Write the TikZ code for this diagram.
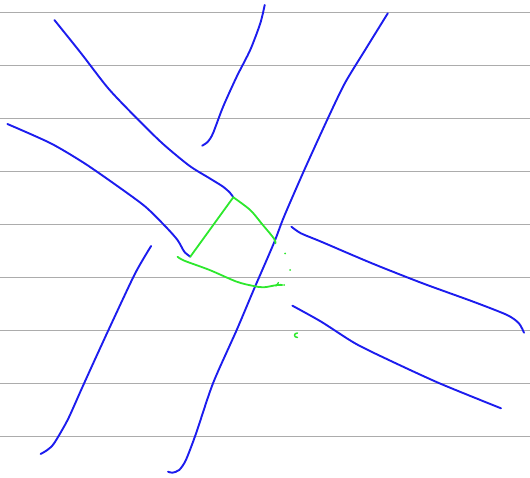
\documentclass[tikz,border=0pt]{standalone}
\usepackage{tikz}
\usepackage{xcolor}
\definecolor{penblue}{RGB}{28,28,238}
\definecolor{pengreen}{RGB}{45,232,45}
\definecolor{ruling}{RGB}{172,172,172}

\begin{document}
\begin{tikzpicture}[x=1pt,y=-1pt,
  ink/.style={draw=penblue,line width=1.9pt,line cap=round,line join=round},
  hilite/.style={draw=pengreen,line width=1.8pt,line cap=round,line join=round}]
\useasboundingbox (0,0) rectangle (530,478);
% ruled paper
\foreach \y in {12.5,65.5,...,437} \draw[ruling,line width=0.9pt] (0,\y) -- (530,\y);
% blue strokes
\draw[ink] plot[smooth,tension=0.45] coordinates {(54.4,20) (81.1,53.3) (108.2,88.3) (135.2,116.7) (162.3,143.3) (189.3,165.7) (209.6,178.3) (223.1,186.7) (229.9,192.7) (233.3,197.3)};
\draw[ink] plot[smooth,tension=0.45] coordinates {(264.7,5) (260.3,23.3) (250.2,50) (236.7,76.7) (223.1,106.7) (213,133.3) (207.9,141.7) (202.2,145.7)};
\draw[ink] plot[smooth,tension=0.45] coordinates {(387.8,13.3) (365.1,50) (344.8,83.3) (327.9,118.3) (304.3,170) (284,216.7) (273.8,243.3) (253.6,290) (236.7,330) (213,383.3) (196.1,433.3) (185.9,460) (179.2,470) (172.4,472.7) (168,471.7)};
\draw[ink] plot[smooth,tension=0.45] coordinates {(7.4,124) (50.7,143.3) (84.5,163.3) (118.3,186.7) (145.4,206.7) (165.7,226.7) (177.5,240) (184.3,251.7) (190.3,256.7)};
\draw[ink] plot[smooth,tension=0.45] coordinates {(151.1,246) (135.2,273.3) (111.6,323.3) (94.7,360) (81.1,390) (67.6,420) (54.1,443.3) (47.3,450) (40.6,454)};
\draw[ink] plot[smooth,tension=0.45] coordinates {(291.4,226.7) (300.9,233.3) (321.2,241.7) (371.9,263.3) (422.6,283.3) (473.3,301.7) (507.1,315) (518.9,323.3) (524,332.7)};
\draw[ink] plot[smooth,tension=0.45] coordinates {(292.4,305.7) (321.2,321.7) (355,343.3) (388.8,360) (439.5,383.3) (501,408.3)};
% green marks
\draw[hilite] (190.3,256.7) -- (233.3,197.3);
\draw[hilite] plot[smooth,tension=0.5] coordinates {(233.3,197.3) (250.2,210) (262,224) (273.8,238.3) (275.5,243.3)};
\draw[hilite] plot[smooth,tension=0.5] coordinates {(177.5,256.7) (184.3,260.7) (209.6,270) (236.7,281.7) (253.6,286) (263.7,287.3) (277.2,285) (282.3,285)};
\draw[hilite,line width=1.3pt] (276,286) -- (278.5,282.5);
\fill[pengreen] (285,253.5) circle (1) (290,270) circle (1) (284,285) circle (1);
\draw[hilite,line width=1.5pt] (297.5,333) .. controls (293.5,333) and (293.5,337.5) .. (297.5,337.5);
\end{tikzpicture}
\end{document}
